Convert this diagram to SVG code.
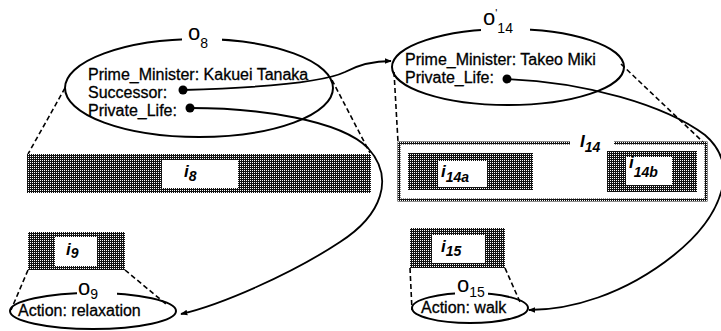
<svg xmlns="http://www.w3.org/2000/svg" width="721" height="331" viewBox="0 0 721 331">
<style>
.t{font-family:"Liberation Sans",Arial,sans-serif;font-size:16px;fill:#000;stroke:#000;stroke-width:0.3}
.lbl{font-family:"Liberation Sans",Arial,sans-serif;font-size:22px;fill:#000}
.sub{font-size:14px}
.il{font-family:"Liberation Sans",Arial,sans-serif;font-size:17px;font-style:italic;font-weight:bold;fill:#000}
.ell{fill:none;stroke:#000;stroke-width:2}
.dash{fill:none;stroke:#000;stroke-width:1.6;stroke-dasharray:5 3}
.conn{fill:none;stroke:#000;stroke-width:1.8}
.dark{fill:url(#st)}
.win{fill:#fff}
.gap{fill:#fff}
</style>
<defs>
<pattern id="st" width="2" height="2" patternUnits="userSpaceOnUse">
<rect width="2" height="2" fill="#111"/>
<rect x="0" y="0" width="1" height="1" fill="#fff"/>
</pattern>
<marker id="arr" viewBox="0 0 10 10" refX="9" refY="5" markerWidth="7" markerHeight="7" orient="auto" markerUnits="userSpaceOnUse">
<path d="M0,1 L10,5 L0,9 z" fill="#000"/>
</marker>
</defs>
<rect width="721" height="331" fill="#fff"/>

<g id="dashes">
<path class="dash" d="M65,88 L28,154"/>
<path class="dash" d="M332,80 L370,153"/>
<path class="dash" d="M394,72 L398,142"/>
<path class="dash" d="M621,64 L703,142"/>
<path class="dash" d="M28,270 L11,310"/>
<path class="dash" d="M125,270 L166,304"/>
<path class="dash" d="M410,268 L412,310"/>
<path class="dash" d="M505,268 L520,302"/>
</g>

<g id="i8">
<rect class="dark" x="27" y="154" width="344" height="39"/>
<rect class="win" x="162" y="160" width="76" height="28"/>
<text class="il" x="184" y="177">i<tspan class="sub" dy="4" font-size="15">8</tspan></text>
</g>

<g id="i14">
<rect x="399" y="143" width="307" height="57" fill="#fff" stroke="url(#st)" stroke-width="3"/>
<rect class="gap" x="570" y="134" width="44" height="14"/>
<text class="il" x="580" y="147">I<tspan class="sub" dy="5" font-size="15">14</tspan></text>
</g>

<g id="i14a">
<rect class="dark" x="408" y="153" width="125" height="37"/>
<rect class="win" x="438" y="161" width="49" height="26"/>
<text class="il" x="441" y="177">i<tspan class="sub" dy="5" font-size="15">14a</tspan></text>
</g>

<g id="i14b">
<rect class="dark" x="607" y="151" width="90" height="41"/>
<rect class="win" x="626" y="157" width="46" height="28"/>
<text class="il" x="629" y="168">i<tspan class="sub" dy="9" font-size="15">14b</tspan></text>
</g>

<g id="i9">
<rect class="dark" x="28" y="232" width="97" height="38"/>
<rect class="win" x="55" y="237" width="42" height="29"/>
<text class="il" x="66" y="255">i<tspan class="sub" dy="3" font-size="15">9</tspan></text>
</g>

<g id="i15">
<rect class="dark" x="410" y="228" width="95" height="40"/>
<rect class="win" x="432" y="235" width="53" height="28"/>
<text class="il" x="441" y="252">i<tspan class="sub" dy="4" font-size="15">15</tspan></text>
</g>

<g id="o8">
<ellipse class="ell" cx="199" cy="88" rx="134" ry="49"/>
<rect class="gap" x="182" y="30" width="40" height="16"/>
<text class="lbl" x="188" y="40">o<tspan class="sub" dy="8">8</tspan></text>
<text class="t" x="88" y="80">Prime_Minister: Kakuei Tanaka</text>
<text class="t" x="88" y="98">Successor:</text>
<text class="t" x="88" y="116">Private_Life:</text>
<circle cx="183" cy="90" r="4.5"/>
<circle cx="190" cy="108" r="4.5"/>
</g>

<g id="o14">
<ellipse class="ell" cx="508" cy="67" rx="116" ry="38"/>
<rect class="gap" x="481" y="20" width="49" height="16"/>
<text class="lbl" x="483" y="25">o<tspan font-size="11" dy="-8">'</tspan><tspan class="sub" dy="16">14</tspan></text>
<text class="t" x="405" y="65">Prime_Minister: Takeo Miki</text>
<text class="t" x="405" y="83">Private_Life:</text>
<circle cx="507" cy="79" r="4.5"/>
</g>

<g id="o9">
<ellipse class="ell" cx="93" cy="311" rx="83" ry="18"/>
<rect class="gap" x="77" y="284" width="40" height="16"/>
<text class="lbl" x="78" y="295">o<tspan class="sub" dy="4">9</tspan></text>
<text class="t" x="18" y="316">Action: relaxation</text>
</g>

<g id="o15">
<ellipse class="ell" cx="470" cy="308" rx="58" ry="15"/>
<rect class="gap" x="455" y="282" width="33" height="14"/>
<text class="lbl" x="457" y="292" font-size="19">o<tspan class="sub" dy="5">15</tspan></text>
<text class="t" x="421" y="313">Action: walk</text>
</g>

<g id="connectors">
<path class="conn" marker-end="url(#arr)" d="M183,90 C250,88 320,84 345,72 C360,64 375,61 391,61"/>
<path class="conn" marker-end="url(#arr)" d="M190,108 C260,108 340,120 368,148 C395,178 382,215 340,242 C290,275 220,305 181,314"/>
<path class="conn" marker-end="url(#arr)" d="M507,79 C585,82 665,105 705,135 C740,165 724,215 674,255 C624,295 570,310 529,310"/>
</g>
</svg>
